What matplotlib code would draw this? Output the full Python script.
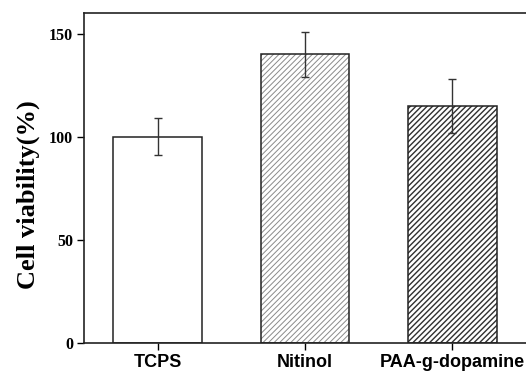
import matplotlib
matplotlib.use("Agg")
import matplotlib.pyplot as plt
import numpy as np

# Data
groups = ["TCPS", "Nitinol", "PAA-g-dopamine"]
viability = [100, 140, 115]
errors = [9, 11, 13]

hatches = ["", "//////", "//////"]
hatch_colors = ["black", "#8a8a8a", "#303030"]
hatch_widths = [0.8, 0.7, 1.0]

fig = plt.figure(figsize=(5.26, 3.75), dpi=100)
ax = fig.add_axes([0.1597, 0.0853, 0.8403, 0.88])

x = np.arange(len(groups))
width = 0.6

# Hatch fill first (edge colour sets hatch colour), then a black outline on top
for i in range(len(groups)):
    with plt.rc_context({"hatch.linewidth": hatch_widths[i]}):
        ax.bar(x[i], viability[i], width, color="white",
               edgecolor=hatch_colors[i], hatch=hatches[i], linewidth=0, zorder=2)
ax.bar(x, viability, width, fill=False, edgecolor="#222222", linewidth=1.1, zorder=3)

ax.errorbar(x, viability, yerr=errors, fmt="none", ecolor="#333333",
            elinewidth=1.0, capsize=3, capthick=1.0, zorder=4)

ax.set_xlim(-0.5, 2.5)
ax.set_ylim(0, 160)
ax.set_yticks([0, 50, 100, 150])
ax.set_xticks(x)
ax.set_xticklabels(groups, fontfamily="Liberation Sans", fontweight="bold", fontsize=13)
for lab in ax.get_yticklabels():
    lab.set_fontfamily("Liberation Serif")
    lab.set_fontweight("bold")
    lab.set_fontsize(11.5)

ax.set_ylabel("Cell viability(%)", fontfamily="Liberation Serif",
              fontweight="bold", fontsize=19, labelpad=5)
ax.yaxis.set_label_coords(-0.1, 0.45)

ax.tick_params(axis="x", direction="out", length=5, width=1, pad=3)
ax.tick_params(axis="y", direction="out", length=5, width=1, pad=3)
for s in ax.spines.values():
    s.set_linewidth(1.2)
    s.set_color("#222222")
ax.spines["right"].set_visible(False)

plt.savefig("out.png", dpi=100)
